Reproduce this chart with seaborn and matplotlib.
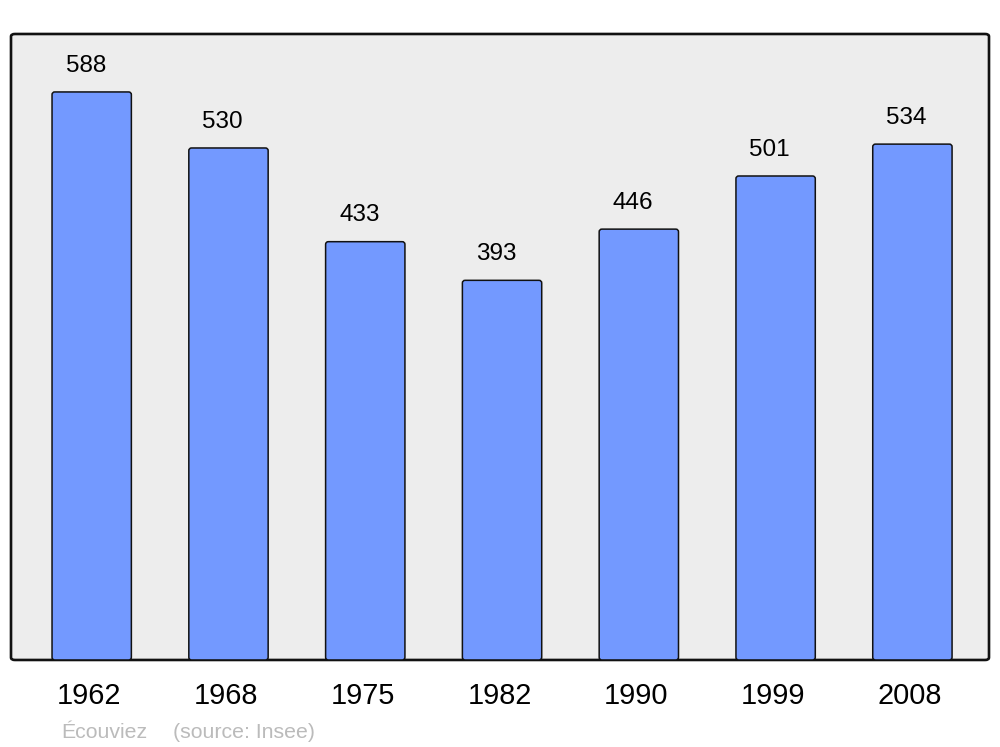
import matplotlib
matplotlib.use("Agg")
import matplotlib.pyplot as plt
import seaborn as sns
import pandas as pd
from matplotlib.patches import FancyBboxPatch
from matplotlib.transforms import ScaledTranslation

years = ["1962", "1968", "1975", "1982", "1990", "1999", "2008"]
population = [588, 530, 433, 393, 446, 501, 534]
commune = "Écouviez"
source = "(source: Insee)"

sns.set_theme(style="white")
plt.rcParams["font.family"] = ["Liberation Sans", "DejaVu Sans"]

df = pd.DataFrame({"year": years, "pop": population})

fig = plt.figure(figsize=(10, 7.47), dpi=100)
ax = fig.add_axes([0.011, 0.1165, 0.978, 0.838])
ax.set_facecolor("none")

# rounded frame background
frame = FancyBboxPatch((0, 0), 1, 1, boxstyle="round,pad=0,rounding_size=0.004",
                       transform=ax.transAxes, facecolor="#EDEDED",
                       edgecolor="#111111", linewidth=1.9, zorder=0, clip_on=False)
ax.add_patch(frame)

sns.barplot(data=df, x="year", y="pop", color="#7399FF", width=0.58,
            edgecolor="#111111", linewidth=1.1, saturation=1, ax=ax, zorder=2)

# round bar corners
rects = [p for p in ax.patches if p is not frame]
for r in rects:
    x, y, w, h = r.get_x(), r.get_y(), r.get_width(), r.get_height()
    fb = FancyBboxPatch((x, y), w, h, boxstyle="round,pad=0,rounding_size=0.02",
                        mutation_aspect=140, facecolor=r.get_facecolor(),
                        edgecolor="#111111", linewidth=1.1, zorder=2)
    r.remove()
    ax.add_patch(fb)

for i, v in enumerate(population):
    ax.annotate(str(v), (i, v), xytext=(-4.3, 19), textcoords="offset points",
                ha="center", va="center", fontsize=17.5, color="black")

ax.set_xlim(-0.59, 6.56)
ax.set_ylim(0, 648)
ax.set_yticks([])
ax.set_xlabel("")
ax.set_ylabel("")
for s in ax.spines.values():
    s.set_visible(False)
ax.tick_params(axis="x", length=0, pad=16, labelsize=20.8, labelcolor="black")
shift = ScaledTranslation(-2.5 / 100, 0, fig.dpi_scale_trans)
for lab in ax.get_xticklabels():
    lab.set_transform(lab.get_transform() + shift)

fig.text(0.061, 0.0195, commune, fontsize=15.3, color="#BBBBBB", ha="left", va="center")
fig.text(0.173, 0.0195, source, fontsize=15.3, color="#BBBBBB", ha="left", va="center")

fig.savefig("out.png", dpi=100, facecolor="white")
